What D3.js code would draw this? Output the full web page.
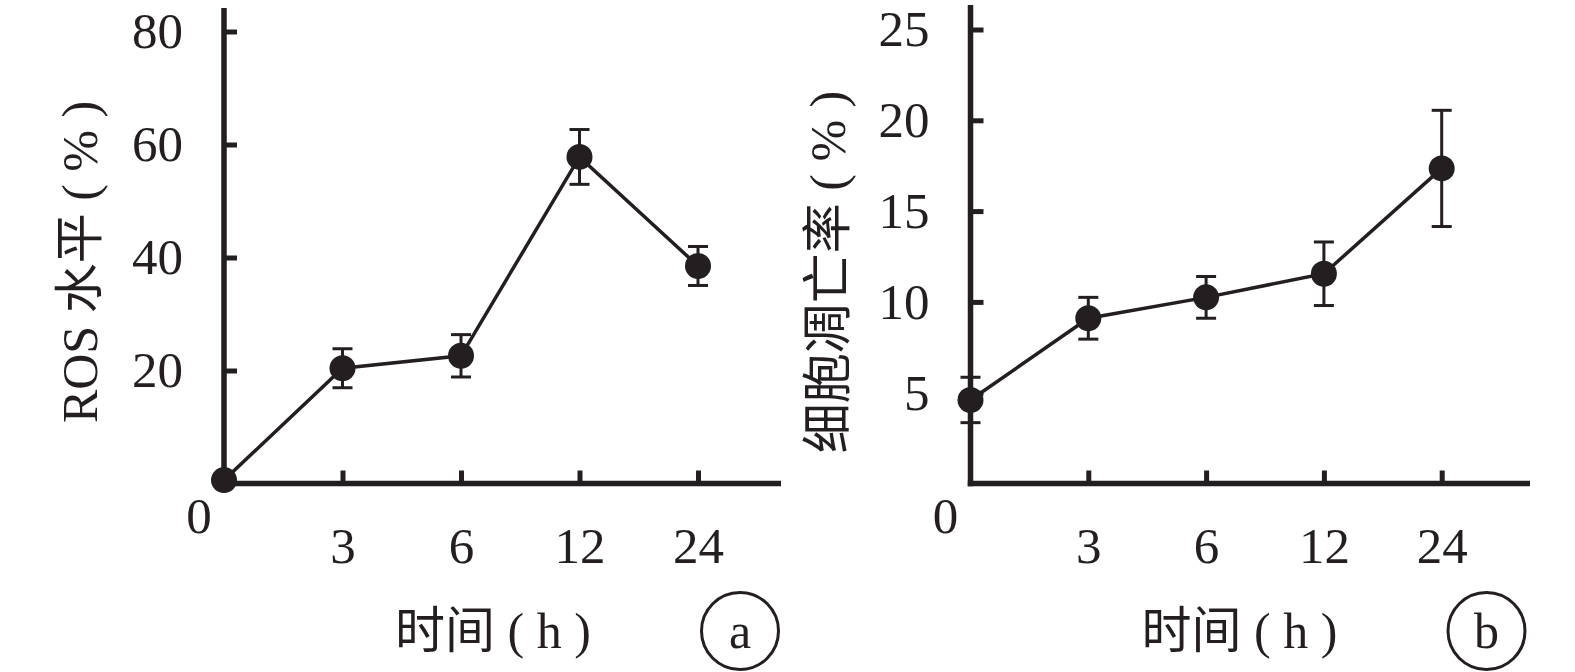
<!DOCTYPE html>
<html>
<head>
<meta charset="utf-8">
<script src="https://cdn.jsdelivr.net/npm/d3@7/dist/d3.min.js"></script>
<style>
  html, body { margin: 0; padding: 0; background: #fff; }
  svg { display: block; }
</style>
</head>
<body>
<svg id="chart" width="1575" height="672"></svg>
<script>
// Sampling times (h)
const times = ["0", "3", "6", "12", "24"];
const timeTicks = ["3", "6", "12", "24"];

// Panel a: ROS level (%)
const rosMean = [0.6, 20.4, 22.6, 57.8, 38.5];
const rosErr  = [0, 3.45, 3.75, 4.85, 3.45];
const rosTicks = [20, 40, 60, 80];

// Panel b: apoptosis rate (%)
const apoMean = [4.6, 9.1, 10.25, 11.55, 17.35];
const apoErr  = [1.25, 1.15, 1.15, 1.75, 3.2];
const apoTicks = [5, 10, 15, 20, 25];

const INK = "#231f20";
const SERIF = "'Liberation Serif', 'Times New Roman', 'Noto Sans CJK SC', serif";

const svg = d3.select("#chart");

function drawPanel(p) {
  const g = svg.append("g");
  const x = d3.scalePoint().domain(times).range([p.x0, p.x0 + p.step * (times.length - 1)]);
  const y = d3.scaleLinear().domain([0, p.yMax]).range([p.y0, p.yTop]);

  const axisW = 5.5;

  // y axis with inward ticks
  const ya = g.append("g")
    .attr("transform", `translate(${p.x0},0)`)
    .call(d3.axisLeft(y).tickValues(p.ticks).tickSizeInner(-13).tickSizeOuter(0).tickPadding(41));
  ya.select(".domain").remove();
  ya.selectAll(".tick line").attr("stroke", INK).attr("stroke-width", 5);
  ya.selectAll(".tick text")
    .attr("fill", INK).attr("font-family", SERIF).attr("font-size", 51);

  // x axis with inward ticks
  const xa = g.append("g")
    .attr("transform", `translate(0,${p.y0})`)
    .call(d3.axisBottom(x).tickValues(timeTicks).tickSizeInner(-13).tickSizeOuter(0).tickPadding(43));
  xa.select(".domain").remove();
  xa.selectAll(".tick line").attr("stroke", INK).attr("stroke-width", 5);
  xa.selectAll(".tick text")
    .attr("fill", INK).attr("font-family", SERIF).attr("font-size", 51);

  // axis lines
  g.append("line")
    .attr("x1", p.x0).attr("x2", p.x0)
    .attr("y1", p.axisTop).attr("y2", p.y0 + axisW / 2)
    .attr("stroke", INK).attr("stroke-width", axisW);
  g.append("line")
    .attr("x1", p.x0 - axisW / 2).attr("x2", p.xEnd)
    .attr("y1", p.y0).attr("y2", p.y0)
    .attr("stroke", INK).attr("stroke-width", axisW);

  // shared origin label
  g.append("text")
    .attr("x", p.x0 - 25).attr("y", 533)
    .attr("text-anchor", "middle")
    .attr("fill", INK).attr("font-family", SERIF).attr("font-size", 51)
    .text("0");

  const rows = times.map((t, i) => ({ t, m: p.mean[i], e: p.err[i] }));

  // connecting line
  g.append("path")
    .datum(rows)
    .attr("fill", "none").attr("stroke", INK).attr("stroke-width", 3.5)
    .attr("d", d3.line().x(d => x(d.t)).y(d => y(d.m)));

  // error bars
  const eb = g.append("g").attr("stroke", INK).attr("stroke-width", 3);
  const withErr = rows.filter(d => d.e > 0);
  eb.selectAll(".v").data(withErr).join("line")
    .attr("x1", d => x(d.t)).attr("x2", d => x(d.t))
    .attr("y1", d => y(d.m - d.e)).attr("y2", d => y(d.m + d.e));
  eb.selectAll(".top").data(withErr).join("line")
    .attr("x1", d => x(d.t) - 10).attr("x2", d => x(d.t) + 10)
    .attr("y1", d => y(d.m + d.e)).attr("y2", d => y(d.m + d.e));
  eb.selectAll(".bot").data(withErr).join("line")
    .attr("x1", d => x(d.t) - 10).attr("x2", d => x(d.t) + 10)
    .attr("y1", d => y(d.m - d.e)).attr("y2", d => y(d.m - d.e));

  // markers
  g.selectAll("circle.pt").data(rows).join("circle")
    .attr("class", "pt")
    .attr("cx", d => x(d.t)).attr("cy", d => y(d.m)).attr("r", 13)
    .attr("fill", INK);

  // y title (rotated)
  g.append("text")
    .attr("transform", `translate(${p.titleX},${p.titleY}) rotate(-90)`)
    .attr("text-anchor", "middle")
    .attr("fill", INK).attr("font-family", SERIF).attr("font-size", 50)
    .text(p.yTitle);

  // x title
  g.append("text")
    .attr("x", p.x0 + 269).attr("y", 648)
    .attr("text-anchor", "middle")
    .attr("fill", INK).attr("font-family", SERIF).attr("font-size", 50)
    .text("时间 ( h )");

  // panel letter in a circle
  g.append("circle")
    .attr("cx", p.x0 + 516).attr("cy", 631).attr("r", 38.5)
    .attr("fill", "none").attr("stroke", INK).attr("stroke-width", 3);
  g.append("text")
    .attr("x", p.x0 + 516).attr("y", 648)
    .attr("text-anchor", "middle")
    .attr("fill", INK).attr("font-family", SERIF).attr("font-size", 50)
    .text(p.letter);
}

drawPanel({
  x0: 224, y0: 483.5, step: 118.5, yMax: 80, yTop: 31.5, axisTop: 8, xEnd: 781,
  ticks: rosTicks, mean: rosMean, err: rosErr,
  yTitle: "ROS 水平 ( % )", titleX: 97, titleY: 262, letter: "a"
});

drawPanel({
  x0: 970.5, y0: 483.5, step: 117.8, yMax: 25, yTop: 29.5, axisTop: 5, xEnd: 1530,
  ticks: apoTicks, mean: apoMean, err: apoErr,
  yTitle: "细胞凋亡率 ( % )", titleX: 845, titleY: 272, letter: "b"
});
</script>
</body>
</html>
